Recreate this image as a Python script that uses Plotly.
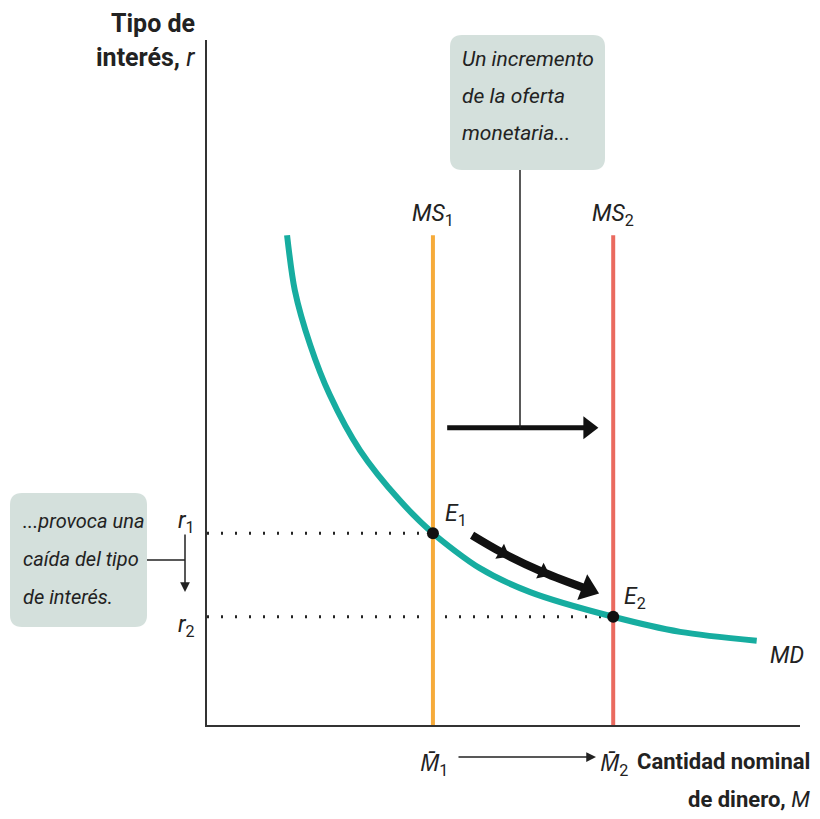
import math
import plotly.graph_objects as go

# ---- data (chart units) ----
MD_x = [1.35, 1.48, 1.74, 2.07, 2.58, 3.25, 3.81, 4.60, 5.45, 6.85, 7.98, 9.27]
MD_y = [7.15, 6.35, 5.55, 4.82, 4.01, 3.28, 2.80, 2.29, 1.94, 1.58, 1.36, 1.23]
M1, M2 = 3.81, 6.85
r1, r2 = 2.80, 1.58
MS_top = 7.15
shift_x = [4.05, 6.60]
shift_y = 4.34
move_x = [4.47, 4.99, 5.67, 6.58]
move_y = [2.77, 2.51, 2.23, 1.93]

# ---- layout geometry (pixels in the 820x819 window) ----
OFF = 8                      # default page body margin
W, H = 820 - OFF, 819 - OFF
PL, PR, PT, PB = 207, 800, 40, 725
UX = (PR - PL) / 10.0        # pixels per x unit
UY = (PB - PT) / 10.0        # pixels per y unit
def px(x): return (x - PL) / (PR - PL)
def py(y): return (PB - y) / (PB - PT)

FONT = "Roboto, Noto Sans, sans-serif"
TXT = "#222222"
TEAL = "#17ada0"
ORANGE = "#f6ab3a"
RED = "#ea6a5f"
BOX = "#d4e0dc"
INK = "#111111"

fig = go.Figure()

# dotted guides
fig.add_trace(go.Scatter(x=[0, M1], y=[r1, r1], mode="lines",
                         line=dict(color="#222", width=3, dash="2px,12px"), hoverinfo="skip"))
fig.add_trace(go.Scatter(x=[0, M2], y=[r2, r2], mode="lines",
                         line=dict(color="#222", width=3, dash="2px,12px"), hoverinfo="skip"))
# money supply lines
fig.add_trace(go.Scatter(x=[M1, M1], y=[0, MS_top], mode="lines",
                         line=dict(color=ORANGE, width=4), hoverinfo="skip"))
fig.add_trace(go.Scatter(x=[M2, M2], y=[0, MS_top], mode="lines",
                         line=dict(color=RED, width=4), hoverinfo="skip"))
# money demand
fig.add_trace(go.Scatter(x=MD_x, y=MD_y, mode="lines",
                         line=dict(color=TEAL, width=6, shape="spline", smoothing=0.8),
                         hoverinfo="skip"))
# equilibria
fig.add_trace(go.Scatter(x=[M1, M2], y=[r1, r2], mode="markers",
                         marker=dict(color=INK, size=12, opacity=1), hoverinfo="skip",
                         cliponaxis=False))
# horizontal shift arrow
fig.add_trace(go.Scatter(x=[shift_x[0], shift_x[1] - 12 / UX], y=[shift_y, shift_y], mode="lines",
                         line=dict(color=INK, width=5), hoverinfo="skip"))
fig.add_trace(go.Scatter(x=[shift_x[1] - 10 / UX], y=[shift_y], mode="markers",
                         marker=dict(symbol="triangle-right", color=INK, size=20, opacity=1,
                                     line=dict(width=0)), hoverinfo="skip"))

# movement along MD: body + chevrons + head (head centred just behind the tip)
dxp = (move_x[-1] - move_x[-2]) * UX
dyp = (move_y[-1] - move_y[-2]) * UY
L = math.hypot(dxp, dyp)
back = 10.0
hx = move_x[-1] - back * dxp / L / UX
hy = move_y[-1] - back * dyp / L / UY
fig.add_trace(go.Scatter(x=move_x[:-1] + [hx], y=move_y[:-1] + [hy], mode="lines",
                         line=dict(color=INK, width=8, shape="spline"), hoverinfo="skip"))
fig.add_trace(go.Scatter(x=move_x[:-1] + [hx], y=move_y[:-1] + [hy], mode="markers",
                         marker=dict(symbol="triangle-up", angleref="previous", color=INK,
                                     opacity=1, size=[0, 15, 15, 24], line=dict(width=0)),
                         hoverinfo="skip", cliponaxis=False))

shapes = []
def rbox(x0, y0, x1, y1, r=12):
    X0, X1 = px(x0), px(x1)
    Y0, Y1 = py(y0), py(y1)
    rx = r / (PR - PL); ry = r / (PB - PT)
    path = (f"M {X0+rx},{Y0} L {X1-rx},{Y0} Q {X1},{Y0} {X1},{Y0-ry} "
            f"L {X1},{Y1+ry} Q {X1},{Y1} {X1-rx},{Y1} L {X0+rx},{Y1} Q {X0},{Y1} {X0},{Y1+ry} "
            f"L {X0},{Y0-ry} Q {X0},{Y0} {X0+rx},{Y0} Z")
    shapes.append(dict(type="path", xref="paper", yref="paper", path=path,
                       fillcolor=BOX, line=dict(width=0), layer="below"))
rbox(450, 35, 605, 170)
rbox(10, 493, 147, 627)
# connector lines
shapes.append(dict(type="line", xref="paper", yref="paper", x0=px(520), x1=px(520),
                   y0=py(170), y1=py(428), line=dict(color="#222", width=1.5)))
shapes.append(dict(type="line", xref="paper", yref="paper", x0=px(147), x1=px(185),
                   y0=py(560), y1=py(560), line=dict(color="#222", width=1.5)))

ann = []
def text(x, y, s, size=21, xa="center", ya="middle", align="center"):
    ann.append(dict(x=px(x), y=py(y), xref="paper", yref="paper", text=s, showarrow=False,
                    font=dict(family=FONT, size=size, color=TXT), xanchor=xa, yanchor=ya,
                    align=align))
def arrow(x0, y0, x1, y1):
    ann.append(dict(x=px(x1), y=py(y1), ax=x0 - x1, ay=y0 - y1, xref="paper", yref="paper",
                    axref="pixel", ayref="pixel", text="", showarrow=True, arrowhead=2,
                    arrowsize=1.3, arrowwidth=1.5, arrowcolor="#222"))

text(197, 24, "<b>Tipo de</b>", size=25, xa="right")
text(197, 58, "<b>interés,</b> <i>r</i>", size=25, xa="right")
for i, s in enumerate(["Un incremento", "de la oferta", "monetaria..."]):
    text(460, 59 + 37 * i, f"<i>{s}</i>", size=21, xa="left")
for i, s in enumerate(["...provoca una", "caída del tipo", "de interés."]):
    text(21, 521 + 38 * i, f"<i>{s}</i>", size=20, xa="left")
text(433, 215, "<i>MS</i><sub>1</sub>", size=23)
text(613, 215, "<i>MS</i><sub>2</sub>", size=23)
text(443, 515, "<i>E</i><sub>1</sub>", size=23, xa="left")
text(622, 598, "<i>E</i><sub>2</sub>", size=23, xa="left")
text(768, 655, "<i>MD</i>", size=23, xa="left")
text(186, 522, "<i>r</i><sub>1</sub>", size=23)
text(186, 626, "<i>r</i><sub>2</sub>", size=23)
text(434, 765, "<i>M̄</i><sub>1</sub>", size=23)
text(614, 765, "<i>M̄</i><sub>2</sub>", size=23)
text(812, 761, "<b>Cantidad nominal</b>", size=22, xa="right")
text(812, 799, "<b>de dinero,</b> <i>M</i>", size=22, xa="right")
arrow(185, 533, 185, 592)
arrow(457, 757, 596, 757)

fig.update_layout(
    width=W, height=H, showlegend=False,
    margin=dict(l=PL - OFF, r=W - (PR - OFF), t=PT - OFF, b=H - (PB - OFF)),
    plot_bgcolor="white", paper_bgcolor="white",
    xaxis=dict(range=[0, 10], showgrid=False, zeroline=False, showticklabels=False,
               ticks="", showline=True, linecolor="#333", linewidth=2, mirror=False),
    yaxis=dict(range=[0, 10], showgrid=False, zeroline=False, showticklabels=False,
               ticks="", showline=True, linecolor="#333", linewidth=2, mirror=False),
    shapes=shapes, annotations=ann,
)
fig.write_html("out.html")
